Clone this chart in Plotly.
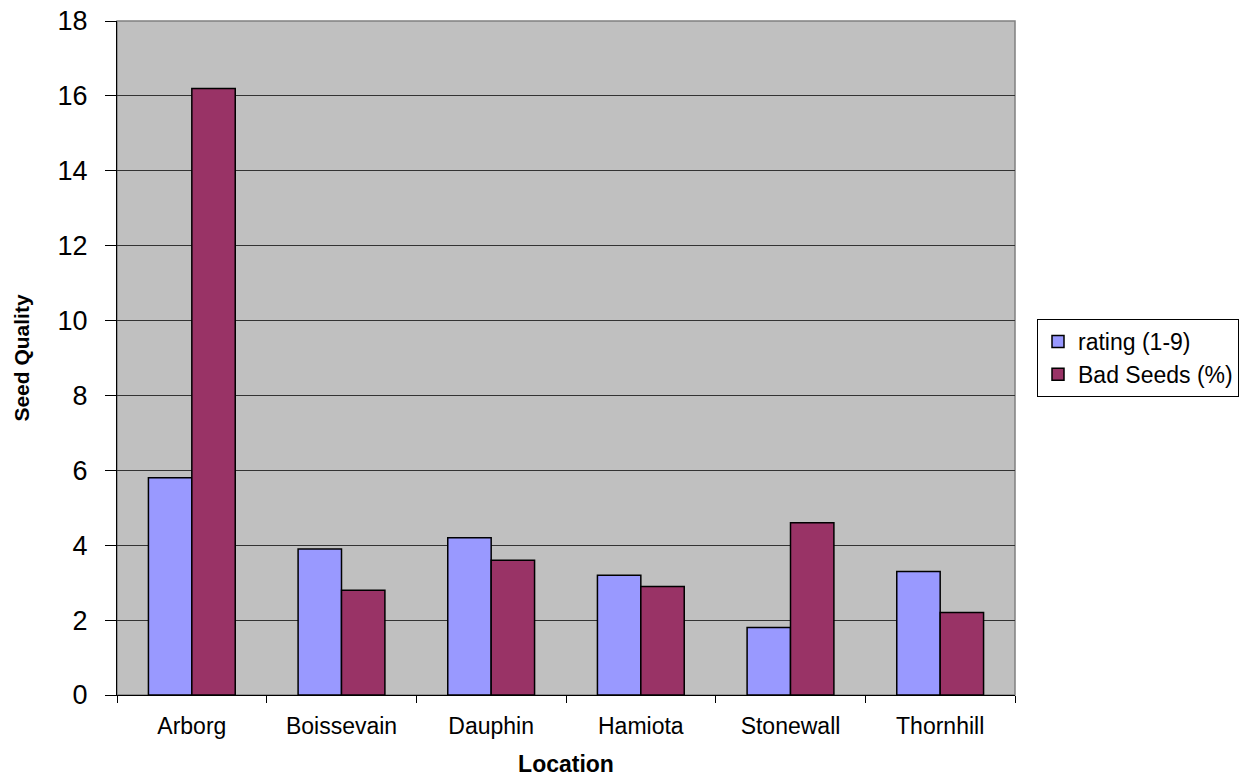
import plotly.graph_objects as go

locations = ["Arborg", "Boissevain", "Dauphin", "Hamiota", "Stonewall", "Thornhill"]
rating = [5.8, 3.9, 4.2, 3.2, 1.8, 3.3]
bad_seeds = [16.2, 2.8, 3.6, 2.9, 4.6, 2.2]
y_ticks = [0, 2, 4, 6, 8, 10, 12, 14, 16, 18]

font_family = "Liberation Sans, Arial, sans-serif"

fig = go.Figure()
fig.add_trace(go.Bar(
    x=locations, y=rating, name="rating (1-9)",
    marker=dict(color="#9999FF", line=dict(color="#000000", width=1.5)),
))
fig.add_trace(go.Bar(
    x=locations, y=bad_seeds, name="Bad Seeds (%)",
    marker=dict(color="#993366", line=dict(color="#000000", width=1.5)),
))

fig.update_layout(
    width=1255, height=779,
    margin=dict(l=117, r=240, t=21, b=84),
    paper_bgcolor="#FFFFFF",
    plot_bgcolor="#C0C0C0",
    barmode="group",
    bargap=0.42,
    bargroupgap=0,
    font=dict(family=font_family, color="#000000"),
    legend=dict(
        x=1.0245, y=0.5, xanchor="left", yanchor="middle",
        bgcolor="#FFFFFF", bordercolor="#000000", borderwidth=1,
        font=dict(size=23, family=font_family),
        tracegroupgap=2,
    ),
    xaxis=dict(
        title=dict(text="<b>Location</b>", font=dict(size=23), standoff=18),
        tickfont=dict(size=23),
        showline=True, linecolor="#000000", linewidth=1,
        ticks="outside", ticklen=7, tickcolor="#000000",
        ticklabelstandoff=10,
        tickson="boundaries",
        showgrid=False,
        mirror=False,
        automargin=False,
    ),
    yaxis=dict(
        title=dict(text="<b>Seed Quality</b>", font=dict(size=21), standoff=22),
        tickfont=dict(size=27),
        range=[0, 18],
        tickvals=y_ticks,
        showline=True, linecolor="#000000", linewidth=1,
        ticks="outside", ticklen=11, tickcolor="#000000",
        ticklabelstandoff=12,
        showgrid=True, gridcolor="#333333", gridwidth=1,
        zeroline=False,
        automargin=False,
    ),
    shapes=[dict(
        type="rect", xref="paper", yref="paper", x0=0, y0=0, x1=1, y1=1,
        line=dict(color="#808080", width=1.5), layer="below",
    )],
)

fig.write_html("out.html")
